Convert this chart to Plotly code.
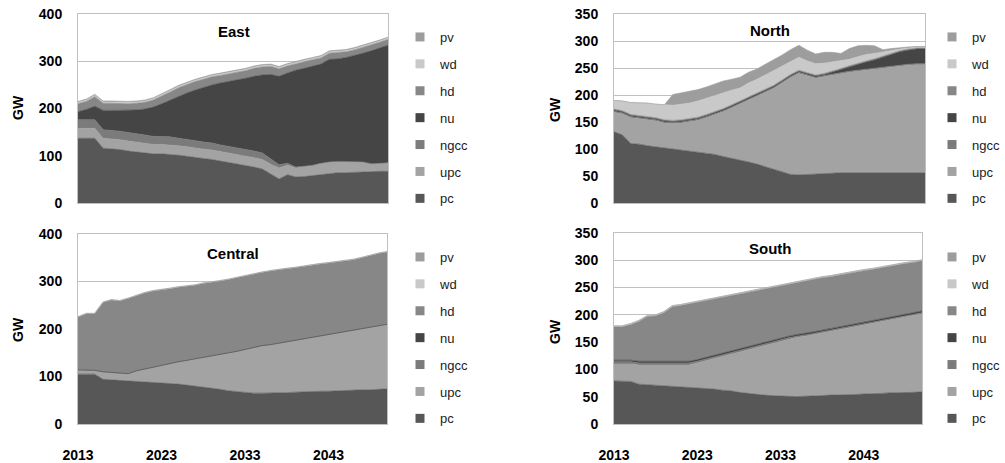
import plotly.graph_objects as go

years = list(range(2013, 2051))
series_names = ["pc", "upc", "ngcc", "nu", "hd", "wd", "pv"]
colors = ["#575757", "#a3a3a3", "#7b7b7b", "#454545", "#878787", "#c9c9c9", "#9d9d9d"]
tick_years = [2013, 2023, 2033, 2043]

# ---- East ----
east_pc = [137,137,137,116,115,113,110,108,105,104, 104,103,101,99,96,94,92,89,86,82, 79,76,72,62,51,60,55,56,58,61, 63,64,64,65,65,66,67,67]
east_upc = [21,21,21,21,21,21,21,21,21,20, 20,20,20,20,20,20,20,20,20,20, 20,20,20,20,23,20,19,21,21,22, 23,23,23,22,21,16,16,17]
east_ngcc = [18,18,18,18,18,18,18,18,18,17, 17,17,16,16,16,15,15,14,14,14, 14,14,14,12,7,4,2,1,1,1, 1,1,1,1,1,1,1,1]
east_nu = [17,22,29,41,42,44,47,50,55,62, 69,78,89,98,107,116,123,131,137,144, 151,158,165,178,187,191,205,207,209,210, 217,217,220,224,230,239,244,249]
east_hd = [17,17,20,15,15,14,14,14,14,15, 16,17,18,18,18,17,17,16,16,16, 16,17,17,17,16,15,14,14,14,13, 13,13,12,12,12,12,12,12]
east_wd = [3,3,3,3,3,3,3,3,3,3, 3,3,3,3,3,3,3,3,3,3, 3,3,3,3,3,3,3,3,3,3, 3,3,3,3,3,3,3,3]
east_pv = [2,2,2,2,2,2,2,2,2,2, 2,2,2,2,2,2,2,2,2,2, 2,2,2,2,2,2,2,2,2,2, 2,2,2,2,2,2,2,2]

# ---- North ----
north_pc = [132,126,110,109,106,104,101,100,98,95, 93,91,90,86,83,80,76,72,67,63, 58,53,52,53,53,54,55,56,56,56, 56,56,56,56,56,56,56,56]
north_upc = [36,39,48,47,49,48,47,47,50,55, 60,67,73,83,93,103,114,125,137,149, 164,179,188,182,178,180,182,184,186,188, 190,192,194,196,198,199,200,200]
north_ngcc = [2,2,2,2,2,2,2,2,2,2, 2,2,2,2,2,2,2,2,2,2, 2,2,2,2,2,2,2,2,2,2, 2,2,2,2,2,2,2,2]
north_nu = [2,2,2,2,2,2,2,2,2,2, 2,2,2,2,2,2,2,2,2,2, 2,2,2,2,2,2,3,5,8,11, 13,15,18,21,24,26,27,27]
north_hd = [2,2,2,2,2,2,2,2,2,2, 2,2,2,2,2,2,2,2,2,2, 2,2,2,2,2,2,2,2,2,2, 2,2,2,2,2,2,2,2]
north_wd = [16,18,22,24,24,25,28,28,29,29, 30,30,30,30,27,24,26,26,27,27, 25,24,24,22,21,19,17,14,12,12, 12,10,8,5,3,2,2,2]
north_pv = [0,0,0,0,0,0,0,20,21,21, 21,21,21,21,20,20,20,19,20,20, 21,22,22,20,18,20,18,14,20,20, 17,14,4,4,3,2,1,1]

# ---- Central ----
central_pc = [105,105,105,94,93,91,91,89,89,88, 87,86,84,82,80,77,75,73,70,68, 66,65,65,65,65,66,67,68,68,69, 69,70,70,71,72,72,73,74]
central_upc = [9,8,8,16,16,17,15,23,27,32, 37,42,47,52,57,63,69,74,80,85, 91,96,100,102,105,107,109,111,114,117, 120,122,125,127,129,132,134,136]
central_ngcc = [0,0,0,0,0,0,0,0,0,0, 0,0,0,0,0,0,0,0,0,0, 0,0,0,0,0,0,0,0,0,0, 0,0,0,0,0,0,0,0]
central_nu = [0,0,0,0,0,0,0,0,0,0, 0,0,0,0,0,0,0,0,0,0, 0,0,0,0,0,0,0,0,0,0, 0,0,0,0,0,0,0,0]
central_hd = [111,119,119,146,152,151,158,158,160,160, 158,157,157,156,155,156,154,154,154,155, 154,154,154,155,155,154,153,153,152,151, 150,149,149,148,149,151,152,152]
central_wd = [1,1,1,1,1,1,1,1,1,1, 1,1,1,1,1,1,1,1,1,1, 1,1,1,1,1,1,1,1,1,1, 1,1,1,1,1,1,1,1]
central_pv = [0,0,0,0,0,0,0,0,0,0, 0,0,0,0,0,0,0,0,0,0, 0,0,0,0,0,0,0,0,0,0, 0,0,0,0,0,0,0,0]

# ---- South ----
south_pc = [79,79,78,73,72,72,70,70,69,68, 67,66,64,62,61,58,56,55,53,52, 51,50,50,51,51,52,53,53,54,54, 55,55,56,57,57,58,58,59]
south_upc = [31,31,32,35,36,36,37,37,38,40, 45,50,56,62,67,74,80,85,91,96, 101,106,109,110,113,115,117,120,122,125, 127,130,132,134,137,139,142,143]
south_ngcc = [4,4,4,4,4,4,4,4,4,4, 3,3,3,3,2,2,2,2,2,2, 2,2,2,2,2,2,2,2,2,2, 2,2,2,2,2,2,2,2]
south_nu = [3,3,3,3,3,3,3,3,3,3, 3,3,3,3,3,3,3,3,3,3, 3,3,3,3,3,3,3,3,3,3, 3,3,3,3,3,3,3,3]
south_hd = [61,61,65,73,82,83,90,101,103,105, 105,104,103,102,102,101,100,99,98,97, 97,96,96,96,96,96,95,95,94,94, 94,93,93,92,92,92,91,92]
south_wd = [2,2,2,2,2,2,2,2,2,2, 2,2,2,2,2,2,2,2,2,2, 2,2,2,2,2,2,2,2,2,2, 2,2,2,2,2,2,2,2]
south_pv = [0,0,0,0,0,0,0,0,0,0, 0,0,0,0,0,0,0,0,0,0, 0,0,0,0,0,0,0,0,0,0, 0,0,0,0,0,0,0,0]

panels = [
    ("East", "x", "y", "legend", [east_pc, east_upc, east_ngcc, east_nu, east_hd, east_wd, east_pv]),
    ("North", "x2", "y2", "legend2", [north_pc, north_upc, north_ngcc, north_nu, north_hd, north_wd, north_pv]),
    ("Central", "x3", "y3", "legend3", [central_pc, central_upc, central_ngcc, central_nu, central_hd, central_wd, central_pv]),
    ("South", "x4", "y4", "legend4", [south_pc, south_upc, south_ngcc, south_nu, south_hd, south_wd, south_pv]),
]

FONT = "Liberation Sans, Arial, sans-serif"
fig = go.Figure()
for title, xa, ya, lg, data in panels:
    for name, col, vals in zip(series_names, colors, data):
        fig.add_trace(go.Scatter(
            x=years, y=vals, name=name, mode="lines",
            stackgroup=title, fillcolor=col,
            line=dict(width=0.6, color=col),
            xaxis=xa, yaxis=ya, showlegend=False,
            hoverinfo="skip",
        ))
    # legend entries (square swatches), pv on top
    for k, (name, col) in enumerate(zip(series_names, colors)):
        fig.add_trace(go.Scatter(
            x=[None], y=[None], name=name, mode="markers",
            marker=dict(symbol="square", size=9, color=col),
            xaxis=xa, yaxis=ya, legend=lg, legendgroup=title + name,
            legendrank=100 - k, showlegend=True, hoverinfo="skip",
        ))

W, H = 1005, 463
def px(v): return v / W
def py(v): return 1 - v / H

axfont = dict(family=FONT, size=14, color="#000", weight="bold")
def xax(d, show):
    return dict(domain=d, range=[2013, 2050], tickvals=tick_years, showticklabels=show,
                ticks="outside", ticklen=18, tickcolor="rgba(0,0,0,0)", automargin=False,
                showgrid=False, zeroline=False, showline=True, mirror=True,
                linecolor="#c0c0c0", linewidth=1, tickfont=axfont, fixedrange=True)
def yax(d, top, step, anchor):
    return dict(domain=d, range=[0, top], dtick=step, anchor=anchor, automargin=False,
                ticks="outside", ticklen=12, tickcolor="rgba(0,0,0,0)",
                showgrid=True, gridcolor="#c0c0c0", gridwidth=1, zeroline=False,
                showline=True, mirror=True, linecolor="#c0c0c0", linewidth=1,
                tickfont=axfont, fixedrange=True)

top_y = [py(203), py(14)]
xl = [px(78), px(388)]
xr = [px(614), px(925)]

legend_common = dict(font=dict(family=FONT, size=13, color="#222"), traceorder="grouped",
                     tracegroupgap=7, xanchor="left", yanchor="top", bgcolor="rgba(0,0,0,0)",
                     itemwidth=30)

fig.update_layout(
    width=W, height=H, margin=dict(l=0, r=0, t=0, b=0, autoexpand=False),
    paper_bgcolor="white", plot_bgcolor="white", showlegend=True,
    xaxis=dict(**xax(xl, False), anchor="y"),
    yaxis=yax(top_y, 400, 100, "x"),
    xaxis2=dict(**xax(xr, False), anchor="y2"),
    yaxis2=yax(top_y, 350, 50, "x2"),
    xaxis3=dict(**xax([px(78), px(387)], True), anchor="y3"),
    yaxis3=yax([py(424), py(234)], 400, 100, "x3"),
    xaxis4=dict(**xax([px(614), px(922)], True), anchor="y4"),
    yaxis4=yax([py(424), py(233)], 350, 50, "x4"),
    legend=dict(**legend_common, x=px(400), y=py(22)),
    legend2=dict(**legend_common, x=px(932), y=py(22)),
    legend3=dict(**legend_common, x=px(400), y=py(242)),
    legend4=dict(**legend_common, x=px(932), y=py(242)),
)

ann = []
titles = [("East", 234, 31), ("North", 770, 30), ("Central", 233, 253), ("South", 770, 249)]
for t, x, y in titles:
    ann.append(dict(text=t, x=px(x), y=py(y), xref="paper", yref="paper", showarrow=False,
                    font=dict(family=FONT, size=15, color="#000", weight="bold"),
                    xanchor="center", yanchor="middle"))
for x, y in [(18, 108), (555, 110), (18, 330), (555, 332)]:
    ann.append(dict(text="GW", x=px(x), y=py(y), xref="paper", yref="paper", showarrow=False,
                    textangle=-90, font=dict(family=FONT, size=14, color="#000", weight="bold"),
                    xanchor="center", yanchor="middle"))
fig.update_layout(annotations=ann)

fig.write_html("out.html", config={"displayModeBar": False},
               post_script="document.body.style.margin='0';document.body.style.overflow='hidden';")
